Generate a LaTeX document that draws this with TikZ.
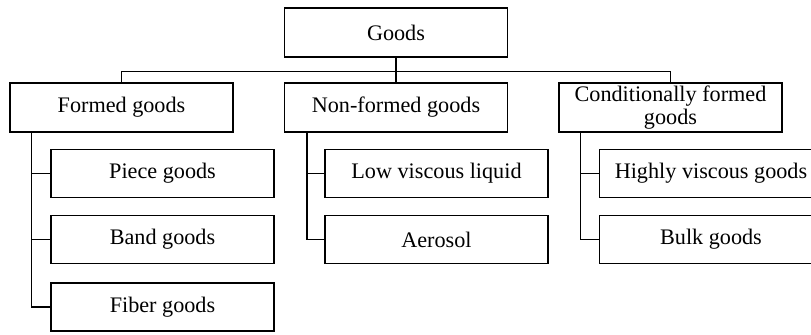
\documentclass[tikz,border=0pt]{standalone}
\usepackage{fontspec}
\setmainfont{Liberation Serif}
\usepackage{tikz}

\tikzset{
  box/.style={draw, line width=0.6pt, rectangle, minimum width=111.5pt,
              minimum height=24pt, inner sep=1pt, align=center,
              font=\fontsize{11.1}{11.8}\selectfont},
  link/.style={line width=0.6pt}
}

\begin{document}
\begin{tikzpicture}[x=0.5pt, y=-0.5pt]
  % page frame in pixel units
  \useasboundingbox (0,0) rectangle (811,334);

  % root
  \node[box, minimum height=24.5pt] (goods) at (396,32.5) {Goods};

  % second level
  \node[box, minimum height=24.5pt] (formed)    at (121.5,107.5) {Formed goods};
  \node[box, minimum height=24.5pt] (nonformed) at (396,107.5)   {Non-formed goods};
  \node[box, minimum height=24.5pt] (cond)      at (670.5,107.5)
       {Conditionally formed\\goods};

  % leaves under formed goods
  \node[box] (piece) at (162.5,173.5) {Piece goods};
  \node[box] (band)  at (162.5,239.5) {Band goods};
  \node[box] (fiber) at (162.5,307)   {Fiber goods};

  % leaves under non-formed goods
  \node[box] (lowvisc) at (436.5,173.5) {Low viscous liquid};
  \node[box] (aerosol) at (436.5,239.5) {Aerosol};

  % leaves under conditionally formed goods (cut at the right edge)
  \node[box] (highvisc) at (711,173.5) {Highly viscous goods};
  \node[box] (bulk)     at (711,239.5) {Bulk goods};

  % root to the bus line
  \draw[link] (goods.south) -- (nonformed.north);
  \draw[link] (formed.north) -- ++(0,-11) -| (cond.north);

  % trunks with side branches
  \coordinate (ftrunk) at ([xshift=11pt]formed.south west);
  \coordinate (ntrunk) at ([xshift=11.5pt]nonformed.south west);
  \coordinate (ctrunk) at ([xshift=11pt]cond.south west);
  \foreach \leaf in {piece,band,fiber}
    \draw[link] (ftrunk) |- (\leaf.west);
  \foreach \leaf in {lowvisc,aerosol}
    \draw[link] (ntrunk) |- (\leaf.west);
  \foreach \leaf in {highvisc,bulk}
    \draw[link] (ctrunk) |- (\leaf.west);
\end{tikzpicture}
\end{document}
